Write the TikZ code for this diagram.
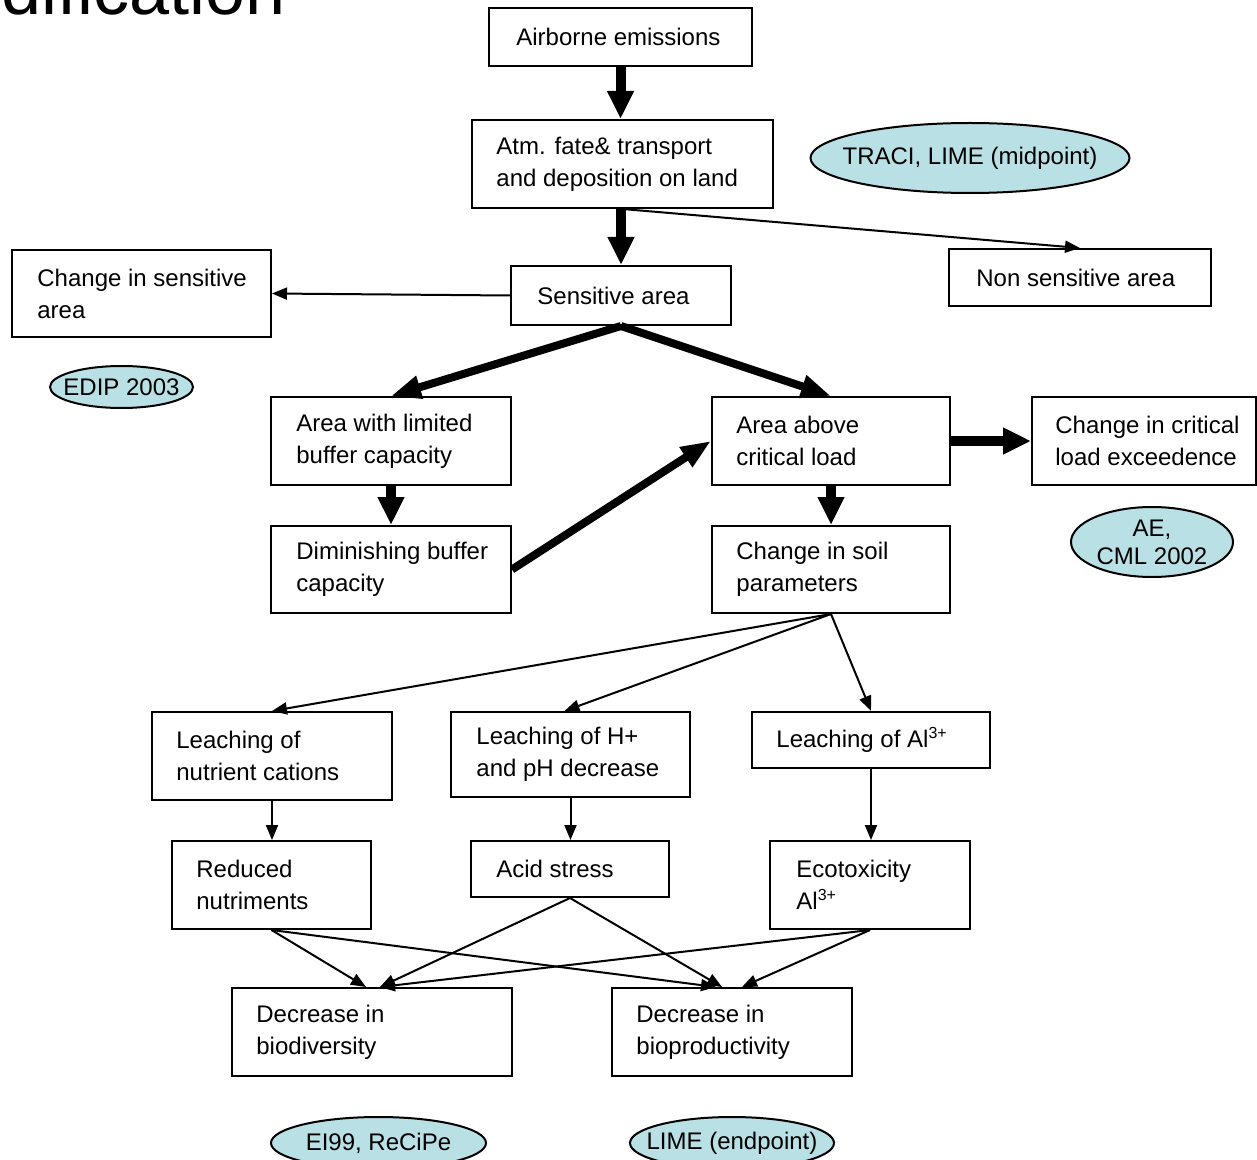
\documentclass[tikz,border=0pt]{standalone}
\usepackage{fontspec}
\setmainfont{Liberation Sans}
\usetikzlibrary{arrows.meta,shapes.geometric}
\definecolor{ellfill}{RGB}{185,224,228}
\begin{document}
\begin{tikzpicture}[x=0.5pt,y=-0.5pt,
  box/.style={draw, line width=1pt, inner sep=0pt},
  txt/.style={anchor=west, align=left, inner sep=0pt, font=\fontsize{12}{16}\selectfont},
  ell/.style={ellipse, draw, line width=1pt, fill=ellfill, inner sep=0pt},
  etxt/.style={align=center, inner sep=0pt, font=\fontsize{12}{14}\selectfont},
  bigarrow/.style={line width=5pt, -{Triangle[length=14pt,width=12.5pt]}},
  diagarrow/.style={line width=4pt, -{Triangle[length=15pt,width=11pt]}},
  thinarrow/.style={line width=1pt, -{Triangle[length=7.5pt,width=6pt]}}
]
\useasboundingbox (0,0) rectangle (1257,1160);

% title fragment
\node[anchor=base west, inner sep=0pt, font=\fontsize{36}{40}\selectfont] (title) at (1,15) {dification};

% boxes
\node[box, minimum width=131.5pt, minimum height=29pt] (air) at (620.5,37) {};
\node[txt] (tair) at ([xshift=14pt]air.west) {Airborne emissions};

\node[box, minimum width=150.5pt, minimum height=44pt] (atm) at (622.5,164) {};
\node[txt] (tatm) at ([xshift=12.5pt]atm.west) {Atm. fate\& transport\\and deposition on land};

\node[box, minimum width=110pt, minimum height=29.5pt] (sens) at (621,295.5) {};
\node[txt] (tsens) at ([xshift=13.5pt]sens.west) {Sensitive area};

\node[box, minimum width=131pt, minimum height=28.5pt] (nons) at (1080,277.5) {};
\node[txt] (tnons) at ([xshift=14pt]nons.west) {Non sensitive area};

\node[box, minimum width=129.5pt, minimum height=43.5pt] (chs) at (141.5,293.5) {};
\node[txt] (tchs) at ([xshift=13pt]chs.west) {Change in sensitive\\area};

\node[box, minimum width=120pt, minimum height=44pt] (alim) at (391,441) {};
\node[txt] (talim) at ([xshift=13pt]alim.west) {Area with limited\\buffer capacity};

\node[box, minimum width=120pt, minimum height=43.5pt] (dim) at (391,569.5) {};
\node[txt] (tdim) at ([xshift=13pt]dim.west) {Diminishing buffer\\capacity};

\node[box, minimum width=119pt, minimum height=44pt] (aab) at (831,441) {};
\node[txt] (taab) at ([xshift=12.5pt]aab.west) {Area above\\critical load};

\node[box, minimum width=119pt, minimum height=43.5pt] (soil) at (831,569.5) {};
\node[txt] (tsoil) at ([xshift=12.5pt]soil.west) {Change in soil\\parameters};

\node[box, minimum width=112pt, minimum height=44pt] (crit) at (1144,441) {};
\node[txt] (tcrit) at ([xshift=12pt]crit.west) {Change in critical\\load exceedence};

\node[box, minimum width=120pt, minimum height=44pt] (lnut) at (272,756) {};
\node[txt] (tlnut) at ([xshift=12.5pt]lnut.west) {Leaching of\\nutrient cations};

\node[box, minimum width=119.5pt, minimum height=42.5pt] (lh) at (570.5,754.5) {};
\node[txt] (tlh) at ([xshift=13pt]lh.west) {Leaching of H+\\and pH decrease};

\node[box, minimum width=119pt, minimum height=28pt] (lal) at (871,740) {};
\node[txt] (tlal) at ([xshift=12.5pt]lal.west) {Leaching of Al\textsuperscript{3+}};

\node[box, minimum width=99.5pt, minimum height=44pt] (red) at (271.5,885) {};
\node[txt] (tred) at ([xshift=12.5pt]red.west) {Reduced\\nutriments};

\node[box, minimum width=99pt, minimum height=28pt] (acid) at (570,869) {};
\node[txt] (tacid) at ([xshift=13pt]acid.west) {Acid stress};

\node[box, minimum width=100pt, minimum height=44pt] (eco) at (870,885) {};
\node[txt] (teco) at ([xshift=13.5pt]eco.west) {Ecotoxicity\\Al\textsuperscript{3+}};

\node[box, minimum width=140pt, minimum height=44pt] (bdiv) at (372,1032) {};
\node[txt] (tbdiv) at ([xshift=12.5pt]bdiv.west) {Decrease in\\biodiversity};

\node[box, minimum width=120pt, minimum height=44pt] (bprod) at (732,1032) {};
\node[txt] (tbprod) at ([xshift=12.5pt]bprod.west) {Decrease in\\bioproductivity};

% ellipses
\node[ell, minimum width=159.5pt, minimum height=35pt] (traci) at (970,158) {};
\node[etxt] (ttraci) at (traci) {TRACI, LIME (midpoint)};
\node[ell, minimum width=71.5pt, minimum height=21pt] (edip) at (121.5,387) {};
\node[etxt] (tedip) at (edip) {EDIP 2003};
\node[ell, minimum width=81pt, minimum height=35pt] (ae) at (1152,542) {};
\node[etxt] (tae) at (ae) {AE,\\CML 2002};
\node[ell, minimum width=107.5pt, minimum height=26pt] (ei) at (378.5,1143) {};
\node[etxt] (tei) at (ei) {EI99, ReCiPe};
\node[ell, minimum width=102pt, minimum height=26pt] (lime) at (732,1143) {};
\node[etxt] (tlime) at (lime) {LIME (endpoint)};

% thick arrows
\draw[bigarrow] (air.south) -- (air.south |- atm.north);
\draw[bigarrow] (sens.north |- atm.south) -- (sens.north);
\draw[diagarrow] (sens.south) -- (alim.north);
\draw[diagarrow] (sens.south) -- (aab.north);
\draw[bigarrow] (alim.south) -- (dim.north);
\draw[diagarrow] (dim.east) -- (aab.west);
\draw[bigarrow] (aab.east) -- (crit.west);
\draw[bigarrow] (aab.south) -- (soil.north);

% thin arrows
\draw[thinarrow] (atm.south) -- (nons.north);
\draw[thinarrow] (sens.west) -- (chs.east);
\draw[thinarrow] (soil.south) -- (lnut.north);
\draw[thinarrow] (soil.south) -- ([xshift=-3pt]lh.north);
\draw[thinarrow] (soil.south) -- (lal.north);
\draw[thinarrow] (lnut.south) -- (lnut.south |- red.north);
\draw[thinarrow] (lh.south) -- (lh.south |- acid.north);
\draw[thinarrow] (lal.south) -- (lal.south |- eco.north);
\draw[thinarrow] (red.south) -- ([xshift=-3pt]bdiv.north);
\draw[thinarrow] (red.south) -- ([xshift=-8pt]bprod.north);
\draw[thinarrow] (acid.south) -- ([xshift=4pt]bdiv.north);
\draw[thinarrow] (acid.south) -- ([xshift=-5pt]bprod.north);
\draw[thinarrow] (eco.south) -- ([xshift=4pt]bdiv.north);
\draw[thinarrow] (eco.south) -- ([xshift=5pt]bprod.north);
\end{tikzpicture}
\end{document}
